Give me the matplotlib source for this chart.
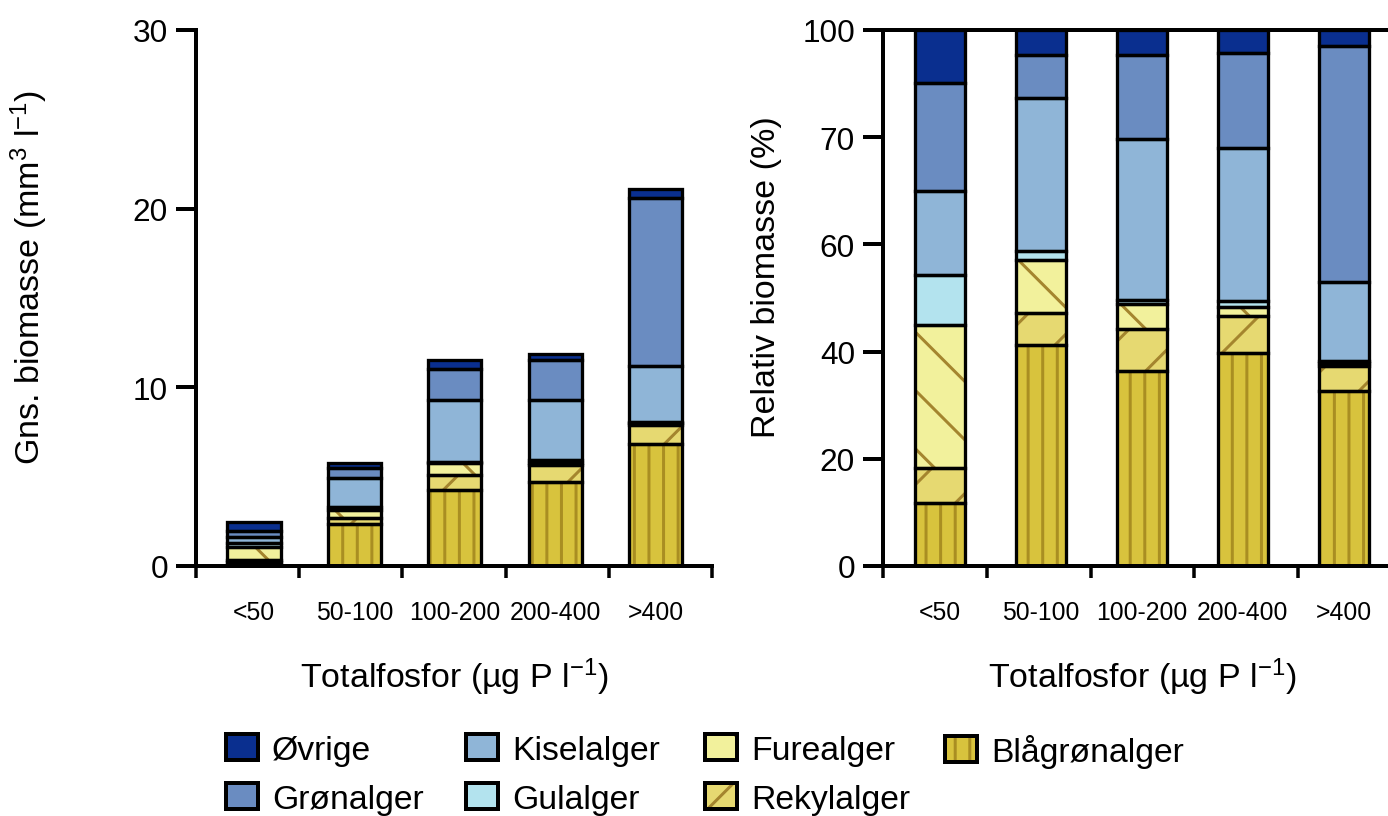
import numpy as np
import matplotlib
matplotlib.use('Agg')
import matplotlib.pyplot as plt
from matplotlib.patches import Patch

DPI = 175
W, H = 1388, 817


def px(p):
    return p * 72.0 / DPI


plt.rcParams['font.family'] = ['Liberation Sans', 'DejaVu Sans']
plt.rcParams['mathtext.fontset'] = 'custom'
plt.rcParams['mathtext.rm'] = 'Liberation Sans'
plt.rcParams['mathtext.it'] = 'Liberation Sans:italic'
plt.rcParams['mathtext.bf'] = 'Liberation Sans:bold'
plt.rcParams['hatch.linewidth'] = px(3.0)

# ---------------- data ----------------
categories = ['<50', '50-100', '100-200', '200-400', '>400']
series_names = ['Blågrønalger', 'Rekylalger', 'Furealger', 'Gulalger',
                'Kiselalger', 'Grønalger', 'Øvrige']

# mean biomass (mm3 l-1)
blagronalger_abs = [0.22, 2.33, 4.24, 4.72, 6.83]
rekylalger_abs = [0.14, 0.34, 0.83, 0.93, 1.06]
furealger_abs = [0.73, 0.49, 0.68, 0.14, 0.12]
gulalger_abs = [0.17, 0.12, 0.05, 0.16, 0.05]
kiselalger_abs = [0.34, 1.63, 3.47, 3.32, 3.13]
gronalger_abs = [0.34, 0.56, 1.75, 2.26, 9.38]
ovrige_abs = [0.55, 0.31, 0.51, 0.33, 0.53]

# relative biomass (%)
blagronalger_rel = [11.8, 41.3, 36.3, 39.7, 32.6]
rekylalger_rel = [6.5, 5.9, 8.0, 6.9, 4.8]
furealger_rel = [26.6, 9.9, 4.5, 1.7, 0.5]
gulalger_rel = [9.4, 1.6, 0.8, 1.2, 0.3]
kiselalger_rel = [15.6, 28.6, 30.1, 28.4, 14.7]
gronalger_rel = [20.3, 8.0, 15.6, 17.9, 44.2]
ovrige_rel = [9.8, 4.7, 4.7, 4.2, 2.9]

left_yticks = [0, 10, 20, 30]
right_yticks = [0, 20, 40, 60, 80, 100]
right_yticklabels = ['0', '20', '40', '60', '70', '100']

abs_data = [blagronalger_abs, rekylalger_abs, furealger_abs, gulalger_abs,
            kiselalger_abs, gronalger_abs, ovrige_abs]
rel_data = [blagronalger_rel, rekylalger_rel, furealger_rel, gulalger_rel,
            kiselalger_rel, gronalger_rel, ovrige_rel]

# ---------------- styles ----------------
HATCH_C = '#A4852E'
styles = {
    'Øvrige': dict(fc='#0A2F8F', hc='#0A2F8F', hatch=None),
    'Grønalger': dict(fc='#6A8CC1', hc='#6A8CC1', hatch=None),
    'Kiselalger': dict(fc='#8FB5D7', hc='#8FB5D7', hatch=None),
    'Gulalger': dict(fc='#B3E3EE', hc='#B3E3EE', hatch=None),
    'Furealger': dict(fc='#F2F19C', hc=HATCH_C, hatch='\\'),
    'Rekylalger': dict(fc='#E6D971', hc=HATCH_C, hatch='/'),
    'Blågrønalger': dict(fc='#D8C33D', hc='#A98E22', hatch='||'),
}

EDGE_LW = px(3.3)
SPINE_LW = px(4)

fig = plt.figure(figsize=(W / DPI, H / DPI), dpi=DPI)

# axes placement (pixel based)
ax1 = fig.add_axes([196 / W, 1 - 567 / H, 516 / W, 536 / H])
ax2 = fig.add_axes([883 / W, 1 - 567 / H, 519 / W, 536 / H])


def draw_stack(ax, data, width):
    x = np.arange(len(categories))
    bottom = np.zeros(len(categories))
    for name, vals in zip(series_names, data):
        st = styles[name]
        vals = np.asarray(vals, dtype=float)
        ax.bar(x, vals, width, bottom=bottom, color=st['fc'],
               edgecolor=st['hc'], linewidth=0, hatch=st['hatch'], zorder=2)
        ax.bar(x, vals, width, bottom=bottom, fill=False,
               edgecolor='black', linewidth=EDGE_LW, zorder=3)
        bottom += vals


draw_stack(ax1, abs_data, 0.53)
draw_stack(ax2, rel_data, 0.50)


def style_axis(ax, x0, ylim, yticks, yticklabels, ylabel, ylabel_x, top_spine):
    x1 = x0 + 5 * 1.028
    ax.set_xlim(x0, x1)
    ax.set_ylim(*ylim)
    ax.set_xticks(np.arange(len(categories)))
    ax.set_xticklabels(categories, fontsize=10.2)
    ax.set_xticks(np.linspace(x0, x1, 6), minor=True)
    ax.tick_params(axis='x', which='major', length=0, pad=px(34))
    ax.tick_params(axis='x', which='minor', length=px(12), width=px(3.5),
                   direction='out')
    ax.set_yticks(yticks)
    ax.set_yticklabels(yticklabels, fontsize=13)
    ax.tick_params(axis='y', which='major', length=px(20), width=px(4),
                   direction='out', pad=px(8))
    for s in ['left', 'bottom', 'top']:
        ax.spines[s].set_linewidth(SPINE_LW)
    ax.spines['right'].set_visible(False)
    ax.spines['top'].set_visible(top_spine)
    ax.set_xlabel(r'Totalfosfor (µg P l$^{-1}$)', fontsize=14)
    ax.xaxis.set_label_coords(0.5, -(657 - 567) / 536)
    ax.set_ylabel(ylabel, fontsize=14)
    ax.yaxis.set_label_coords(ylabel_x, 0.54)


style_axis(ax1, -0.578, (0, 30), left_yticks, [str(t) for t in left_yticks],
           r'Gns. biomasse (mm$^3$ l$^{-1}$)', (50 - 196) / 516, False)
style_axis(ax2, -0.564, (0, 100), right_yticks, right_yticklabels,
           'Relativ biomasse (%)', (782 - 883) / 519, True)

# ---------------- legend ----------------
LEG_FS = 13.9
em = LEG_FS * DPI / 72.0


def handle(name):
    st = styles[name]
    return (Patch(facecolor=st['fc'], edgecolor=st['hc'], linewidth=0,
                  hatch=st['hatch']),
            Patch(fill=False, edgecolor='black', linewidth=px(4)))


legend_columns = [['Øvrige', 'Grønalger'], ['Kiselalger', 'Gulalger'],
                  ['Furealger', 'Rekylalger'], ['Blågrønalger']]
legend_x = [226, 466, 705, 945]
for col, lx in zip(legend_columns, legend_x):
    fig.legend([handle(n) for n in col], col, loc='upper left',
               bbox_to_anchor=(lx / W, 1 - 735 / H), frameon=False,
               borderpad=0, borderaxespad=0, fontsize=LEG_FS,
               handlelength=32 / em, handleheight=27 / em,
               handletextpad=14 / em, labelspacing=0.52)

fig.savefig('out.png', dpi=DPI)
